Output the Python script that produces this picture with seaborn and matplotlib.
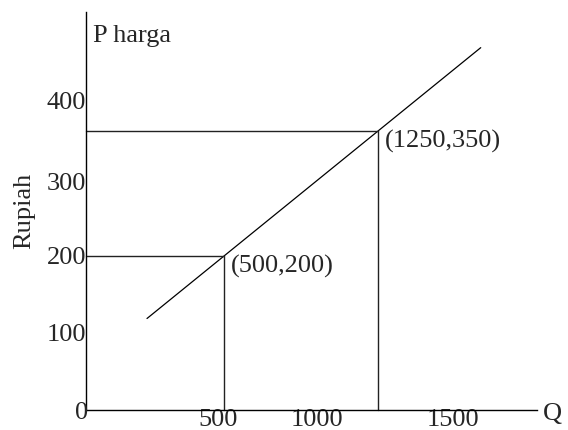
import matplotlib
matplotlib.use("Agg")
import matplotlib.pyplot as plt
import pandas as pd
import seaborn as sns

# supply curve endpoints (Q, P)
q_line = [125, 1750]
p_line = [125, 450]

# marked points
q_points = [500, 1250]
p_points = [200, 350]
point_labels = ["(500,200)", "(1250,350)"]

# tick labels as printed
x_tick_labels = ["500", "1000", "1500"]
y_tick_labels = ["400", "300", "200", "100"]

# where the labels sit on the axes (the drawing is not to scale)
x_tick_pos = [471, 953, 1615]
y_tick_pos = [387, 289, 200, 108]


def main():
    sns.set_theme()
    sns.set_style("white")
    plt.rcParams["font.family"] = ["Liberation Serif", "DejaVu Serif"]
    fs = 19

    W, H = 568, 430
    fig = plt.figure(figsize=(W / 100, H / 100), dpi=100)
    left, right, top, bottom = 86, 537, 12, 410
    ax = fig.add_axes([left / W, 1 - bottom / H, (right - left) / W, (bottom - top) / H])
    ax.set_xlim(-172, 2024)
    ax.set_ylim(15.2, 492.8)

    for s in ["top", "right"]:
        ax.spines[s].set_visible(False)
    for s in ["left", "bottom"]:
        ax.spines[s].set_color("black")
        ax.spines[s].set_linewidth(1.0)

    df = pd.DataFrame({"Q": q_line, "P": p_line})
    sns.lineplot(data=df, x="Q", y="P", ax=ax, color="black", linewidth=0.9)

    x0, y0 = ax.get_xlim()[0], ax.get_ylim()[0]
    for q, p, lab in zip(q_points, p_points, point_labels):
        ax.plot([x0, q], [p, p], color="#222222", linewidth=1.0, clip_on=False)
        ax.plot([q, q], [y0, p], color="#222222", linewidth=1.0, clip_on=False)
        ax.annotate(lab, (q, p), xytext=(7, -10), textcoords="offset pixels",
                    ha="left", va="center", fontsize=fs)

    ax.set_xticks(x_tick_pos, x_tick_labels)
    ax.set_yticks(y_tick_pos, y_tick_labels)
    ax.tick_params(axis="both", length=0, labelsize=fs)
    ax.tick_params(axis="x", pad=-1)
    ax.tick_params(axis="y", pad=0)
    ax.set_xlabel("")
    ax.set_ylabel("Rupiah", fontsize=fs, labelpad=8)

    fig.text(93 / W, 1 - 36 / H, "P harga", fontsize=fs, ha="left", va="center")
    fig.text(81.5 / W, 1 - 413 / H, "0", fontsize=fs, ha="center", va="center")
    fig.text(552 / W, 1 - 414 / H, "Q", fontsize=fs, ha="center", va="center")

    fig.savefig("out.png", dpi=100)


if __name__ == "__main__":
    main()
